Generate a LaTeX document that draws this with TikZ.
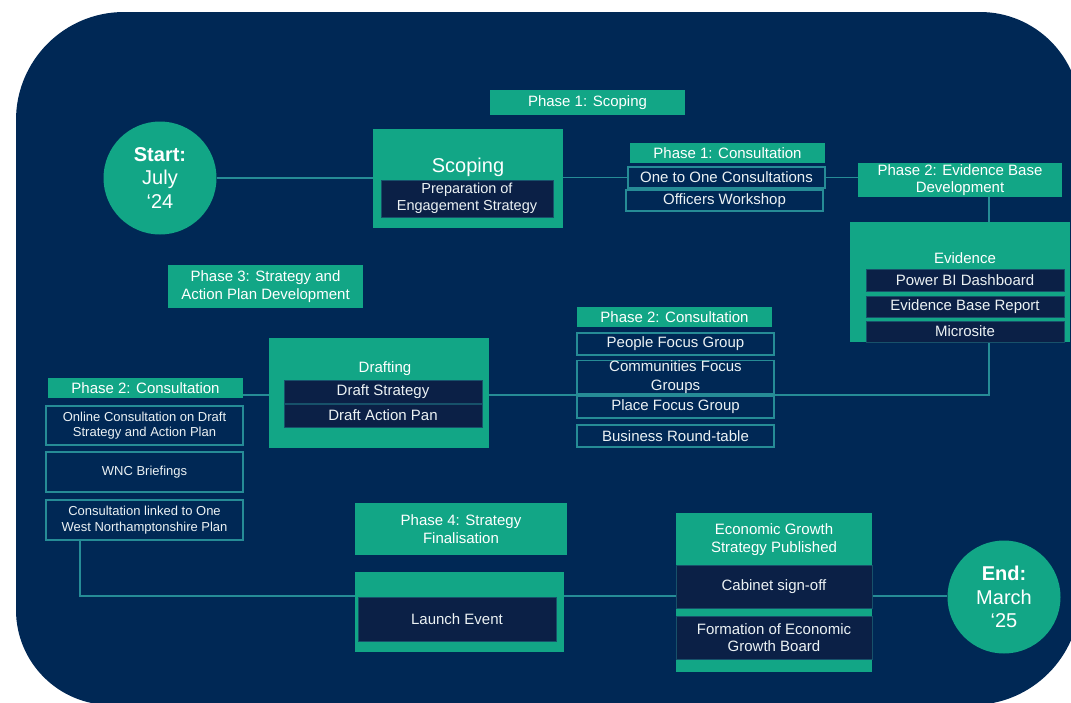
\documentclass[tikz,border=0pt]{standalone}
\usepackage{fontspec}
\setmainfont{Liberation Sans}
\usetikzlibrary{backgrounds}
\definecolor{navy}{RGB}{0,40,85}
\definecolor{grn}{RGB}{18,166,134}
\definecolor{dnavy}{RGB}{11,32,70}
\definecolor{tealine}{RGB}{38,140,150}
\definecolor{txt}{RGB}{236,242,244}
\begin{document}
\begin{tikzpicture}[x=1pt,y=-1pt,
 sz/.style 2 args={minimum width=#1pt,minimum height=#2pt},
 gbox/.style={fill=grn,text=white,align=center,inner sep=0pt,font=\fontsize{15}{17.5}\selectfont},
 ibox/.style={fill=navy,draw=tealine,line width=1.2pt,text=txt,align=center,inner sep=0pt,font=\fontsize{15}{17.5}\selectfont},
 dbox/.style={fill=dnavy,draw=tealine!45!dnavy,line width=0.6pt,text=txt,align=center,inner sep=0pt,font=\fontsize{15}{17.5}\selectfont},
 sbox/.style={ibox,font=\fontsize{13}{15.5}\selectfont},
 ttl/.style={text=white,inner sep=0pt,align=center,font=\fontsize{15}{17.5}\selectfont},
 conn/.style={draw=tealine,line width=1.3pt},
 circ/.style={circle,fill=grn,text=white,align=center,inner sep=0pt,minimum size=113pt,font=\fontsize{20}{23.5}\selectfont}
]
\useasboundingbox (0,0) rectangle (1071,702);

% ---- Phase 1
\node[gbox,sz={195}{25}] (p1s) at (587.5,102.5) {Phase 1: Scoping};
\node[circ] (start) at (160,178) {\textbf{Start:}\\July\\‘24};
\node[gbox,sz={190}{99}] (scop) at (468,178.5) {};
\node[ttl,font=\fontsize{20}{24}\selectfont] (scopT) at (468,167) {Scoping};
\node[dbox,sz={172}{37},font=\fontsize{14.5}{17}\selectfont] (prep) at (467,198.5) {Preparation of\\Engagement Strategy};

\node[gbox,sz={195}{20}] (p1c) at (727.5,153) {Phase 1: Consultation};
\node[ibox,sz={197}{21}] (oneone) at (726.5,177.5) {One to One Consultations};
\node[ibox,sz={197}{21}] (officers) at (724.5,200.5) {Officers Workshop};

% ---- Phase 2 evidence
\node[gbox,sz={204}{34}] (p2evid) at (960,180) {Phase 2: Evidence Base\\Development};
\node[gbox,sz={220}{120}] (evidence) at (960,282) {};
\node[ttl] (evT) at (965,258) {Evidence};
\node[dbox,sz={198}{22}] (powerbi) at (965,280) {Power BI Dashboard};
\node[dbox,sz={198}{21}] (ebr) at (965,306.5) {Evidence Base Report};
\node[dbox,sz={198}{21}] (micro) at (965,331.5) {Microsite};

% ---- Phase 2 consultation (middle)
\node[gbox,sz={195}{20}] (p2consM) at (674.5,317) {Phase 2: Consultation};
\node[ibox,sz={197}{22}] (people) at (675.5,344) {People Focus Group};
\node[ibox,sz={197}{32},font=\fontsize{15}{19.5}\selectfont] (communities) at (675.5,377) {Communities Focus\\Groups};
\node[ibox,sz={197}{22}] (place) at (675.5,407) {Place Focus Group};
\node[ibox,sz={197}{22}] (business) at (675.5,436) {Business Round-table};

% ---- Phase 3
\node[gbox,sz={195}{43}] (p3) at (265.5,286.5) {Phase 3: Strategy and\\Action Plan Development};
\node[gbox,sz={220}{110}] (drafting) at (379,393) {};
\node[ttl] (drT) at (385,369) {Drafting};
\node[dbox,sz={198}{23}] (draftS) at (383,391.5) {Draft Strategy};
\node[dbox,sz={198}{23}] (draftA) at (383,415.5) {Draft Action Pan};

% ---- Phase 2 consultation (left)
\node[gbox,sz={195}{20}] (p2consL) at (145.5,388) {Phase 2: Consultation};
\node[sbox,sz={197}{39}] (online) at (144.5,425.5) {Online Consultation on Draft\\Strategy and Action Plan};
\node[sbox,sz={197}{40}] (wnc) at (144.5,472) {WNC Briefings};
\node[sbox,sz={197}{40}] (cwnp) at (144.5,520) {Consultation linked to One\\West Northamptonshire Plan};

% ---- Phase 4
\node[gbox,sz={212}{52}] (p4) at (461,529) {Phase 4: Strategy\\Finalisation};
\node[gbox,sz={209}{80}] (launch) at (459.5,612) {};
\node[dbox,sz={198}{44}] (launchI) at (457,619) {Launch Event};

\node[gbox,sz={196}{159}] (econ) at (774,592.5) {};
\node[ttl] (ecT) at (774,539.5) {Economic Growth\\Strategy Published};
\node[dbox,sz={196}{43}] (cabinet) at (774,586.5) {Cabinet sign-off};
\node[dbox,sz={196}{43}] (formation) at (774,637.5) {Formation of Economic\\Growth Board};

\node[circ] (endc) at (1004,597) {\textbf{End:}\\March\\‘25};

% ---- background and connectors
\coordinate (ej) at (989,0);
\coordinate (mj) at (989,395);
\coordinate (lj) at (80,596);
\begin{pgfonlayer}{background}
\fill[white] (0,0) rectangle (1071,702);
\fill[navy] (16,120) arc[start angle=180,end angle=270,radius=108]
  -- (980,12) arc[start angle=270,end angle=360,radius=100]
  -- (1080,597) arc[start angle=0,end angle=90,radius=108]
  -- (111,705) arc[start angle=90,end angle=180,radius=95] -- cycle;
\draw[conn] (start) -- (start -| scop.west);
\draw[conn] (scop.east |- oneone) -- (oneone.west);
\draw[conn] (oneone.east) -- (oneone.east -| p2evid.west);
\draw[conn] (p2evid.south -| ej) -- (evidence.north -| ej);
\draw[conn] (micro.south -| mj) -- (mj) -- (mj -| drafting.east);
\draw[conn] (p2consL.east |- mj) -- (drafting.west |- mj);
\draw[conn] (cwnp.south -| lj) -- (lj) -- (lj -| launch.west);
\draw[conn] (launch.east |- lj) -- (econ.west |- lj);
\draw[conn] (econ.east |- lj) -- (endc.west |- lj);
\end{pgfonlayer}
\end{tikzpicture}
\end{document}
